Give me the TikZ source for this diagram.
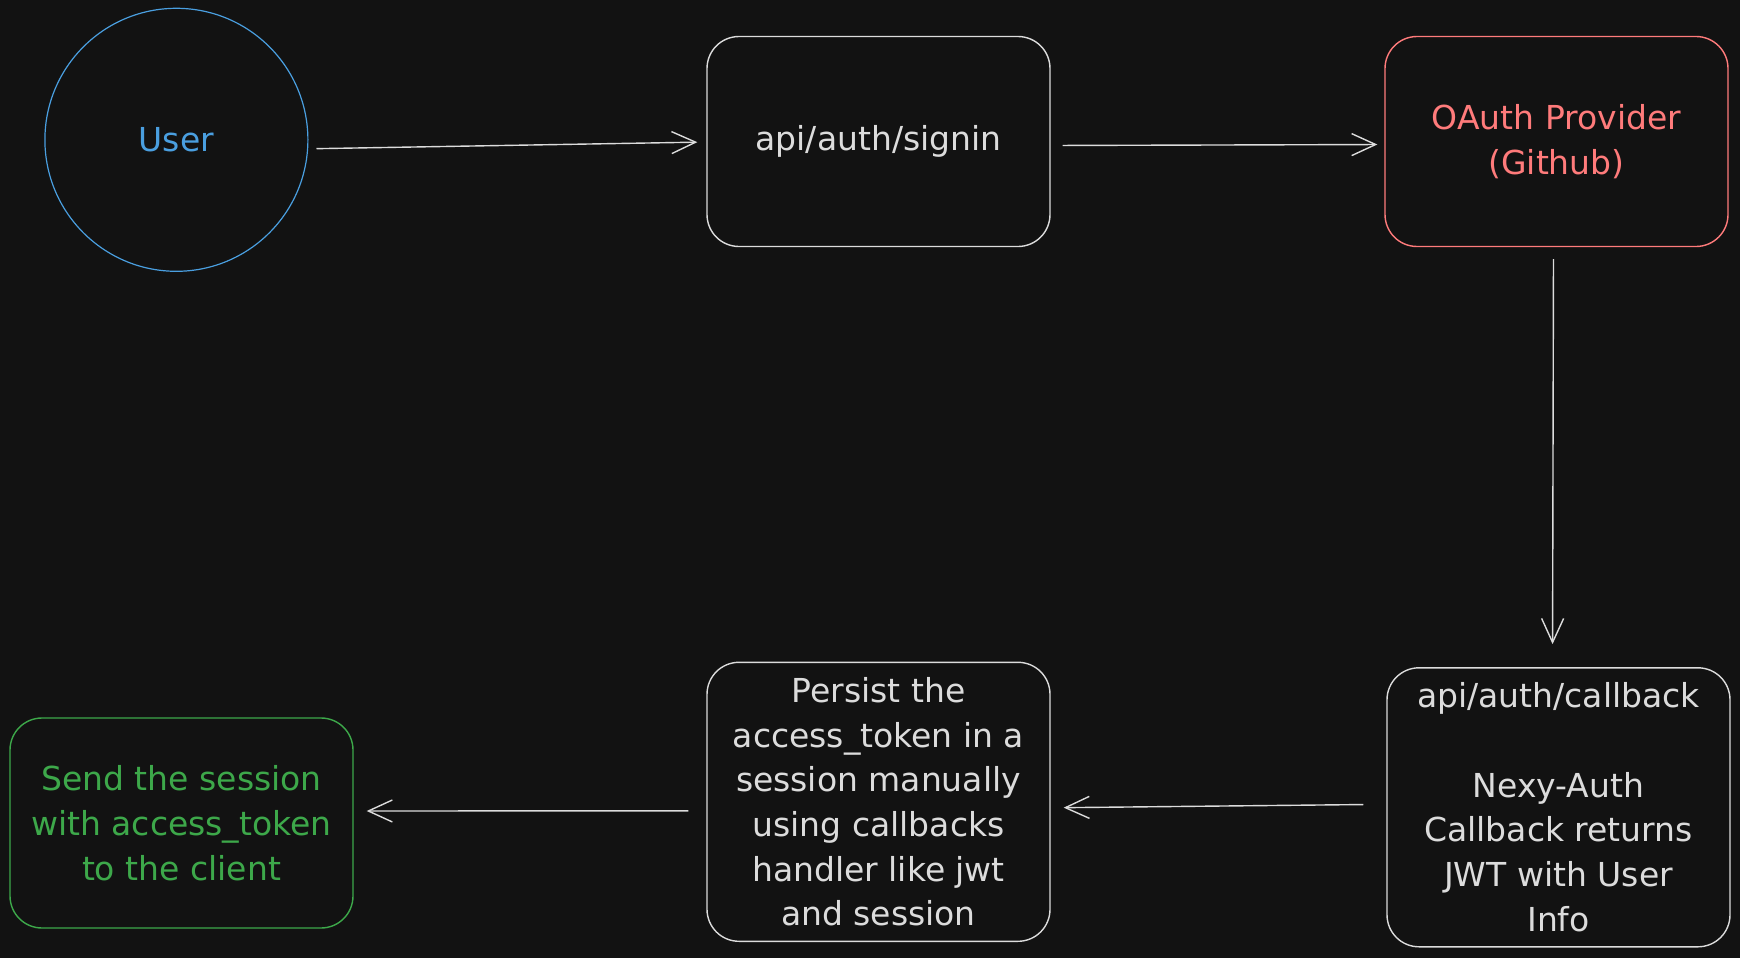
\documentclass[tikz,border=0pt]{standalone}
\usepackage{fontspec}
\setmainfont{DejaVu Sans}
\usetikzlibrary{arrows.meta}
\definecolor{bg}{HTML}{121212}
\definecolor{ink}{HTML}{DCDCDC}
\definecolor{userblue}{HTML}{4A9FE0}
\definecolor{oauthred}{HTML}{FF7B7B}
\definecolor{sendgreen}{HTML}{3DA84A}
\begin{document}
\begin{tikzpicture}[x=1pt,y=-1pt,
  every node/.style={font=\fontsize{33}{44.7}\selectfont, align=center, text=ink},
  box/.style={draw=ink, line width=1.4pt, rounded corners=32pt, minimum width=343pt, inner sep=0pt},
  flow/.style={draw=ink, line width=1.4pt, -{Straight Barb[length=24pt,width=22pt,line width=1.4pt]}}
]
\useasboundingbox (0,0) rectangle (1740,958);
\fill[bg] (0,0) rectangle (1740,958);

\node[circle, draw=userblue, line width=1.2pt, minimum size=263pt, text=userblue, inner sep=0pt] (user) at (176.4,139.8) {User};
\node[box, minimum height=210pt] (signin) at (878.5,141.5) {api/auth/signin};
\node[box, draw=oauthred, text=oauthred, minimum height=210pt] (oauth) at (1556.5,141.5) {OAuth Provider\\(Github)};
\node[box, minimum height=279pt] (callback) at (1558.5,807.3) {api/auth/callback\\[44.7pt]Nexy-Auth\\Callback returns\\JWT with User\\Info};
\node[box, minimum height=279pt] (persist) at (878.5,801.8) {Persist the\\access\_token in a\\session manually\\using callbacks\\handler like jwt\\and session};
\node[box, draw=sendgreen, text=sendgreen, minimum height=210pt] (send) at (181.5,823) {Send the session\\with access\_token\\to the client};

\draw[flow, shorten <=8pt, shorten >=9pt] ([yshift=-9pt]user.east) -- ([yshift=-0.5pt]signin.west);
\draw[flow, shorten <=12pt, shorten >=7pt] ([yshift=-4pt]signin.east) -- ([yshift=-3pt]oauth.west);
\draw[flow, shorten <=12pt, shorten >=23pt] ([xshift=-3pt]oauth.south) -- ([xshift=-6pt]callback.north);
\draw[flow, shorten <=23pt, shorten >=13pt] ([yshift=3pt]callback.west) -- ([yshift=-6pt]persist.east);
\draw[flow, shorten <=18pt, shorten >=13pt] ([yshift=-9pt]persist.west) -- ([yshift=12pt]send.east);
\end{tikzpicture}
\end{document}
